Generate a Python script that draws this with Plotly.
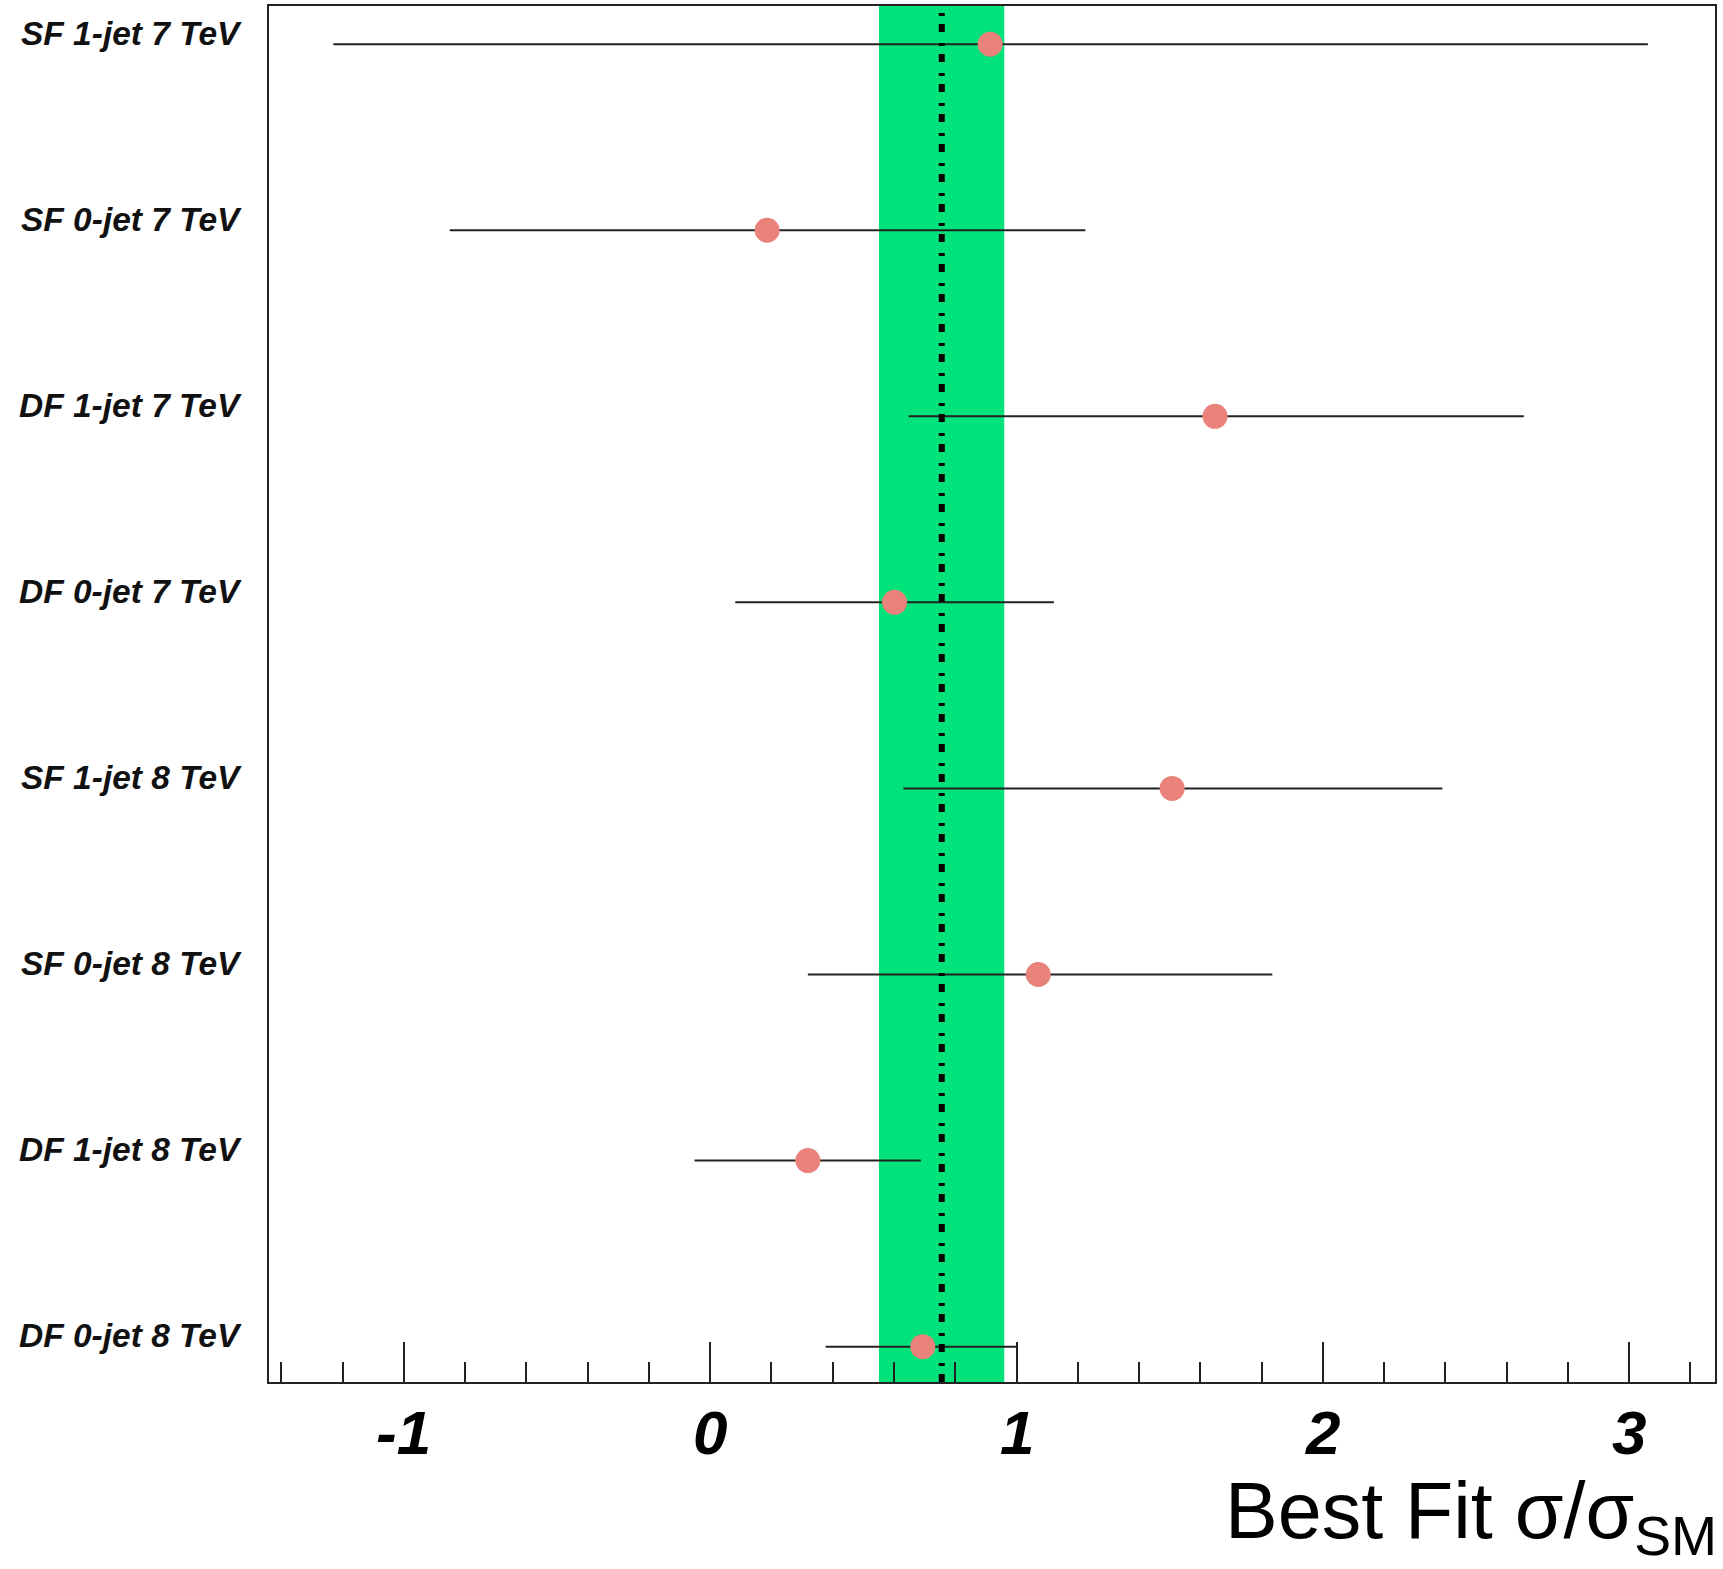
import plotly.graph_objects as go

# Channels, listed top to bottom
channels = [
    "SF 1-jet 7 TeV",
    "SF 0-jet 7 TeV",
    "DF 1-jet 7 TeV",
    "DF 0-jet 7 TeV",
    "SF 1-jet 8 TeV",
    "SF 0-jet 8 TeV",
    "DF 1-jet 8 TeV",
    "DF 0-jet 8 TeV",
]
best_fit = [0.914, 0.186, 1.648, 0.602, 1.508, 1.071, 0.319, 0.694]
interval_lo = [-1.230, -0.850, 0.648, 0.082, 0.631, 0.319, -0.051, 0.377]
interval_hi = [3.061, 1.225, 2.656, 1.122, 2.390, 1.835, 0.688, 1.000]

# Combined result and its 1-sigma band
combined = 0.756
combined_lo = 0.551
combined_hi = 0.960

x_tick_vals = [-1, 0, 1, 2, 3]
x_tick_text = ["-1", "0", "1", "2", "3"]

n = len(channels)
ypos = [n - 1 - i for i in range(n)]
err_plus = [h - v for h, v in zip(interval_hi, best_fit)]
err_minus = [v - l for v, l in zip(best_fit, interval_lo)]

fig = go.Figure()

fig.add_trace(go.Scatter(
    x=best_fit,
    y=ypos,
    mode="markers",
    marker=dict(color="rgb(233,130,122)", size=25, line=dict(width=0)),
    error_x=dict(
        type="data",
        symmetric=False,
        array=err_plus,
        arrayminus=err_minus,
        width=0,
        thickness=2,
        color="#222222",
    ),
    showlegend=False,
    hoverinfo="x+y",
))

# Combined band and central value
fig.add_shape(
    type="rect", xref="x", yref="paper",
    x0=combined_lo, x1=combined_hi, y0=0, y1=1,
    fillcolor="#00E37B", line=dict(width=0), layer="below",
)
fig.add_shape(
    type="line", xref="x", yref="paper",
    x0=combined, x1=combined, y0=0, y1=1,
    line=dict(color="black", width=6, dash="8px,8px,3px,11px"),
    layer="above",
)

# Channel labels to the left of the frame
label_font = dict(family="Liberation Sans, Arial, sans-serif", size=33.5,
                  color="#111111", weight="bold", style="italic")
for name, y in zip(channels, ypos):
    fig.add_annotation(
        text=name, xref="paper", yref="y", x=-0.0175, y=y,
        xanchor="right", yanchor="middle", yshift=11,
        showarrow=False, font=label_font,
    )

# Numbers under the major x ticks
tick_font = dict(family="Liberation Sans, Arial, sans-serif", size=62,
                 color="black", weight="bold", style="italic")
for v, t in zip(x_tick_vals, x_tick_text):
    fig.add_annotation(
        text=t, xref="x", yref="paper", x=v, y=0,
        xanchor="center", yanchor="top", yshift=-14,
        showarrow=False, font=tick_font,
    )

# Axis title, right aligned under the frame
fig.add_annotation(
    text="Best Fit σ/σ<sub>SM</sub>",
    xref="paper", yref="paper", x=1.003, y=-0.1357,
    xanchor="right", yanchor="bottom", showarrow=False,
    font=dict(family="Liberation Sans, Arial, sans-serif", size=79, color="black"),
)

fig.update_xaxes(
    range=[-1.44, 3.28],
    tickvals=x_tick_vals,
    showticklabels=False,
    ticks="inside",
    ticklen=40,
    tickwidth=2,
    tickcolor="#222222",
    minor=dict(ticks="inside", ticklen=20, tickwidth=2, tickcolor="#222222", dtick=0.2, tick0=0),
    showline=True, linecolor="#222222", linewidth=2, mirror=True,
    showgrid=False, zeroline=False,
)
fig.update_yaxes(
    range=[-0.19, 7.205],
    showticklabels=False,
    ticks="",
    showline=True, linecolor="#222222", linewidth=2, mirror=True,
    showgrid=False, zeroline=False,
)

fig.update_layout(
    width=1723, height=1569,
    margin=dict(l=269, r=8, t=4, b=187),
    paper_bgcolor="white",
    plot_bgcolor="white",
)

fig.write_html("out.html")
